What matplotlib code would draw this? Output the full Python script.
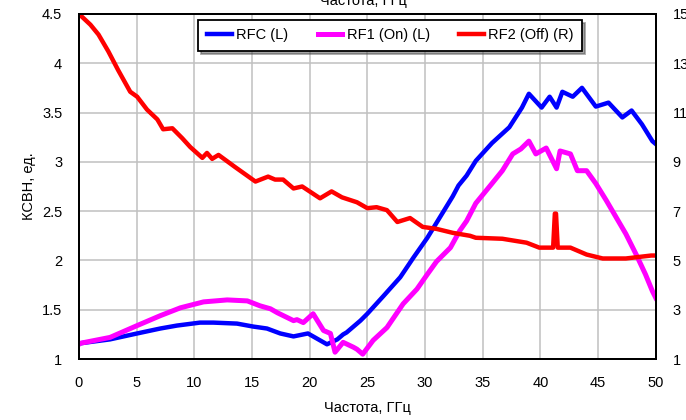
import matplotlib
matplotlib.use('Agg')
import matplotlib.pyplot as plt

# values
# RFC (left axis)
rfc_f = [0.0, 0.1, 2.7, 5.05, 7.05, 8.5, 10.5, 11.65, 13.7, 15.1, 16.3, 17.45, 18.6,
         19.85, 20.6, 21.5, 22.4, 22.9, 23.2, 24.4, 25.0, 26.4, 27.85, 29.0, 30.2, 31.3,
         32.4, 32.9, 33.6, 34.4, 35.8, 37.3, 38.4, 39.0, 40.1, 40.8, 41.4, 41.9, 42.8,
         43.6, 44.8, 45.9, 47.1, 47.9, 48.8, 49.7, 50.0]
rfc_v = [1.15, 1.16, 1.20, 1.26, 1.31, 1.34, 1.37, 1.37, 1.36, 1.33, 1.31, 1.26, 1.23,
         1.26, 1.21, 1.15, 1.20, 1.25, 1.27, 1.39, 1.46, 1.64, 1.83, 2.03, 2.23, 2.44,
         2.65, 2.76, 2.86, 3.01, 3.19, 3.35, 3.55, 3.69, 3.55, 3.66, 3.55, 3.71, 3.66,
         3.75, 3.56, 3.60, 3.45, 3.52, 3.38, 3.21, 3.18]

# RF1 (On) (left axis)
rf1_f = [0.0, 0.1, 2.7, 5.05, 7.05, 8.8, 10.8, 12.85, 14.6, 15.7, 16.6, 17.2, 18.6,
         18.9, 19.45, 20.3, 21.2, 21.8, 22.2, 22.9, 23.8, 24.1, 24.6, 25.5, 26.7,
         28.1, 29.3, 30.2, 31.0, 32.2, 33.0, 33.6, 34.4, 35.8, 36.7, 37.6, 38.3, 39.0,
         39.6, 40.5, 41.4, 41.7, 42.6, 43.2, 44.0, 44.8, 45.7, 46.6, 47.4, 48.3, 49.1,
         49.7, 50.0]
rf1_v = [1.15, 1.16, 1.22, 1.34, 1.44, 1.52, 1.58, 1.60, 1.59, 1.54, 1.51, 1.47, 1.39,
         1.40, 1.37, 1.46, 1.29, 1.26, 1.07, 1.17, 1.12, 1.10, 1.05, 1.19, 1.32,
         1.56, 1.71, 1.86, 1.99, 2.13, 2.30, 2.40, 2.58, 2.78, 2.91, 3.08, 3.13, 3.21,
         3.08, 3.14, 2.93, 3.11, 3.08, 2.91, 2.91, 2.78, 2.61, 2.43, 2.27, 2.06, 1.86,
         1.69, 1.62]

# RF2 (Off) (right axis)
rf2_f = [0.0, 1.0, 1.7, 2.55, 3.4, 4.45, 5.05, 5.9, 6.8, 7.3, 8.1, 8.95, 9.65, 10.7,
         11.1, 11.55, 12.1, 13.5, 14.7, 15.3, 16.4, 17.0, 17.7, 18.6, 19.35, 20.9,
         21.9, 22.8, 24.1, 25.0, 25.8, 26.7, 27.6, 28.7, 29.8, 31.0, 32.4, 33.9, 34.4,
         36.7, 38.8, 39.9, 41.1, 41.25, 41.35, 41.5, 42.6, 44.0, 45.4, 47.4, 49.6, 50.0]
rf2_v = [15.0, 14.56, 14.16, 13.48, 12.72, 11.84, 11.64, 11.12, 10.72, 10.32, 10.36,
         9.96, 9.60, 9.16, 9.36, 9.12, 9.28, 8.80, 8.40, 8.20, 8.40, 8.28, 8.28, 7.92,
         8.00, 7.52, 7.80, 7.56, 7.36, 7.12, 7.16, 7.04, 6.56, 6.72, 6.36, 6.28, 6.12,
         6.00, 5.92, 5.88, 5.72, 5.52, 5.52, 6.9, 6.9, 5.52, 5.52, 5.24, 5.08, 5.08,
         5.20, 5.20]

plt.rcParams['font.family'] = ['Liberation Sans Narrow', 'Liberation Sans', 'DejaVu Sans']
plt.rcParams['font.size'] = 10.5

fig = plt.figure(figsize=(6.86, 4.2), dpi=100)
ax = fig.add_axes([0.115, 0.145, 0.841, 0.822])
ax2 = ax.twinx()

ax.plot(rfc_f, rfc_v, color='#0000FF', lw=3.2, label='RFC (L)', zorder=3)
ax.plot(rf1_f, rf1_v, color='#FF00FF', lw=3.6, label='RF1 (On) (L)', zorder=4)
ax2.plot(rf2_f, rf2_v, color='#FF0000', lw=3.2, label='RF2 (Off) (R)')

ax.set_xlim(0, 50)
ax.set_ylim(1, 4.5)
ax2.set_ylim(1, 15)
ax.set_xticks(range(0, 51, 5))
ax.set_yticks([1, 1.5, 2, 2.5, 3, 3.5, 4, 4.5])
ax.set_yticklabels(['1', '1.5', '2', '2.5', '3', '3.5', '4', '4.5'])
ax2.set_yticks(range(1, 16, 2))

ax.grid(True, color='#c0c0c0', lw=1.1)
ax.set_axisbelow(True)
ax.tick_params(axis='both', length=0, pad=12)
ax2.tick_params(axis='y', length=0, pad=12)
for a in (ax, ax2):
    for s in a.spines.values():
        s.set_linewidth(1.4)
        s.set_color('black')

ax.set_ylabel('КСВН, ед.', labelpad=4)
ax.set_xlabel('Частота, ГГц', labelpad=8)
# title sits partly above the top edge, as in the original
fig.text(0.53, 1 - 5 / 420, 'Частота, ГГц', ha='center', va='baseline')

h1, l1 = ax.get_legend_handles_labels()
h2, l2 = ax2.get_legend_handles_labels()
leg = ax2.legend(h1 + h2, l1 + l2, ncol=3, loc='upper center',
                 bbox_to_anchor=(0.54, 0.983), borderaxespad=0,
                 fancybox=False, shadow=True,
                 framealpha=1, edgecolor='black', handlelength=1.7,
                 handletextpad=0.3, columnspacing=2.0, borderpad=0.6)
leg.get_frame().set_linewidth(1.3)

fig.savefig('out.png', dpi=100)
